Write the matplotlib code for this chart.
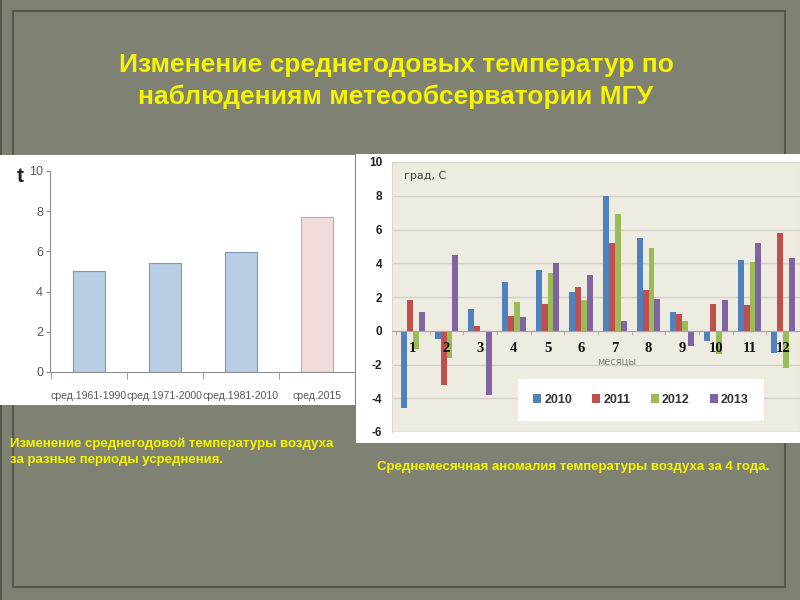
import matplotlib
matplotlib.use("Agg")
import matplotlib.pyplot as plt
from matplotlib.patches import Rectangle
import numpy as np

plt.rcParams["axes.unicode_minus"] = False

# данные: левая диаграмма
periods = ["сред.1961-1990", "сред.1971-2000", "сред.1981-2010", "сред.2015"]
mean_temp = [5.0, 5.4, 5.95, 7.7]

# данные: правая диаграмма (аномалия по месяцам)
months = [1, 2, 3, 4, 5, 6, 7, 8, 9, 10, 11, 12]
years = ["2010", "2011", "2012", "2013"]
anom_2010 = [-4.6, -0.5, 1.3, 2.9, 3.6, 2.3, 8.0, 5.5, 1.1, -0.6, 4.2, -1.3]
anom_2011 = [1.8, -3.2, 0.3, 0.9, 1.6, 2.6, 5.2, 2.4, 1.0, 1.6, 1.5, 5.8]
anom_2012 = [-1.1, -1.6, 0.0, 1.7, 3.4, 1.8, 6.9, 4.9, 0.6, -1.4, 4.1, -2.2]
anom_2013 = [1.1, 4.5, -3.8, 0.8, 4.0, 3.3, 0.6, 1.9, -0.9, 1.8, 5.2, 4.3]

W, H = 800, 600
BG = "#7f8272"
YELLOW = "#f5f500"

fig = plt.figure(figsize=(8, 6), dpi=100)
fig.patch.set_facecolor(BG)

def fx(px):
    return px / W

def fy(py):
    return 1 - py / H

def add_rect(x0, y0, x1, y1, **kw):
    # прямоугольник в пикселях слайда, под осями
    r = Rectangle((fx(x0), fy(y1)), fx(x1 - x0), (y1 - y0) / H,
                  transform=fig.transFigure, zorder=-5, **kw)
    fig.patches.append(r)

# рамка слайда и подложки
add_rect(13, 11, 785, 587, fill=False, edgecolor="#55584c", linewidth=1.5)
add_rect(0, 0, 2, 600, facecolor="#55584c", edgecolor="none")
add_rect(0, 155, 355, 405, facecolor="white", edgecolor="none")
add_rect(356, 154, 800, 443, facecolor="white", edgecolor="none")

# заголовок
fig.text(fx(396), fy(81), "Изменение среднегодовых температур по\nнаблюдениям метеообсерватории МГУ",
         ha="center", va="center", color=YELLOW, fontsize=19, fontweight="bold",
         family="Liberation Sans", linespacing=1.35)

# ---- левая диаграмма
ax1 = fig.add_axes([fx(50), fy(372), fx(305), 201 / H])
ax1.set_facecolor("white")
colors1 = ["#b9cde5", "#b9cde5", "#b9cde5", "#f2dcdb"]
edges1 = ["#7f97bb", "#7f97bb", "#7f97bb", "#d9a3a1"]
x1 = np.arange(len(periods))
ax1.bar(x1, mean_temp, width=0.42, color=colors1, edgecolor=edges1, linewidth=0.8)
ax1.set_xlim(-0.51, 3.47)
ax1.set_ylim(0, 10)
ax1.set_yticks([0, 2, 4, 6, 8, 10])
ax1.set_xticks(x1)
ax1.set_xticklabels(periods)
ax1.set_xticks(np.arange(-0.5, 4.0, 1.0), minor=True)
for s in ["top", "right"]:
    ax1.spines[s].set_visible(False)
for s in ["left", "bottom"]:
    ax1.spines[s].set_color("#8c8c8c")
ax1.tick_params(axis="y", length=3, color="#8c8c8c", labelcolor="#595959",
                labelsize=9, pad=2)
ax1.tick_params(axis="x", which="major", length=0, labelcolor="#595959",
                labelsize=7.6, pad=14)
ax1.tick_params(axis="x", which="minor", length=5, color="#8c8c8c")
for lab in ax1.get_xticklabels() + ax1.get_yticklabels():
    lab.set_family("Liberation Sans")
fig.text(fx(20), fy(176), "t", ha="center", va="center", fontsize=15,
         fontweight="bold", color="#222222", family="Liberation Sans")

# ---- правая диаграмма
ax2 = fig.add_axes([fx(392), fy(432), fx(408), 270 / H])
ax2.set_facecolor("#eeebe0")
ser_colors = ["#4f81bd", "#c0504d", "#9bbb59", "#8064a2"]
series = [anom_2010, anom_2011, anom_2012, anom_2013]
bw = 0.175
m = np.array(months)
for i, (vals, col, yr) in enumerate(zip(series, ser_colors, years)):
    ax2.bar(m + (i - 1.5) * bw, vals, width=bw, color=col, label=yr, zorder=3)
ax2.set_xlim(0.38, 12.45)
ax2.set_ylim(-6, 10)
ax2.set_yticks(np.arange(-6, 11, 2))
ax2.yaxis.grid(True, color="#d4d2c8", linewidth=1.0, zorder=0)
ax2.set_axisbelow(True)
ax2.set_xticks(m)
ax2.set_xticklabels([str(v) for v in months])
ax2.set_xticks(np.arange(0.5, 13, 1.0), minor=True)
ax2.spines["bottom"].set_position(("data", 0))
ax2.spines["bottom"].set_color("#a6a6a6")
ax2.spines["bottom"].set_zorder(4)
for s in ["top", "right", "left"]:
    ax2.spines[s].set_color("#d9d7ce")
ax2.tick_params(axis="y", length=0, labelsize=8.5, labelcolor="#222222", pad=7)
for lab in ax2.get_yticklabels():
    lab.set_fontweight("bold")
    lab.set_family("Liberation Sans")
ax2.tick_params(axis="x", which="major", length=0, labelsize=10.5, pad=8,
                labelcolor="#111111")
ax2.tick_params(axis="x", which="minor", length=3, color="#a6a6a6")
for lab in ax2.get_xticklabels():
    lab.set_family("Liberation Serif")
    lab.set_fontweight("bold")
ax2.xaxis.set_zorder(4)
fig.text(fx(617), fy(362), "месяцы", fontsize=7, color="#7f7f7f",
         ha="center", va="center")
fig.text(fx(404), fy(176), "град, С", fontsize=8, color="#404040",
         ha="left", va="center")

leg = ax2.legend(loc="center", bbox_to_anchor=(fx(641), fy(400)),
                 bbox_transform=fig.transFigure, ncol=4, frameon=True,
                 fancybox=False, framealpha=1, edgecolor="white",
                 facecolor="white", handlelength=0.65, handleheight=0.65,
                 handletextpad=0.25, columnspacing=1.6, borderpad=1.2,
                 borderaxespad=0,
                 prop={"size": 9, "weight": "bold", "family": "Liberation Sans"})
leg.get_frame().set_linewidth(0)
for t in leg.get_texts():
    t.set_color("#333333")

# подписи
fig.text(fx(10), fy(452), "Изменение среднегодовой температуры воздуха\nза разные периоды усреднения.",
         ha="left", va="center", color=YELLOW, fontsize=9.5, fontweight="bold",
         family="Liberation Sans", linespacing=1.4)
fig.text(fx(573), fy(467), "Среднемесячная аномалия температуры воздуха за 4 года.",
         ha="center", va="center", color=YELLOW, fontsize=9.5, fontweight="bold",
         family="Liberation Sans")

fig.savefig("out.png", dpi=100, facecolor=fig.get_facecolor())
